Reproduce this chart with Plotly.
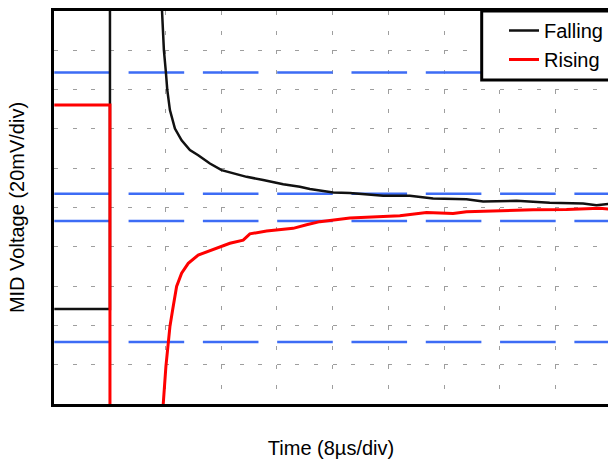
import plotly.graph_objects as go

# Data (x in divisions of 8 µs, y in divisions of 20 mV)
falling_x = [0.0, 1.0, 1.0, None, 1.925, 1.969, 2.005, 2.029, 2.077, 2.167, 2.287, 2.436, 2.585,
             2.795, 3.005, 3.214, 3.454, 3.752, 4.111, 4.411, 4.591, 5.009, 5.309, 5.907,
             6.386, 6.804, 7.404, 7.702, 8.302, 8.899, 9.497, 9.738, 9.95]
falling_y = [2.42, 2.42, 10.5, None, 10.3, 9.00, 8.435, 8.00, 7.48, 7.01, 6.71, 6.46, 6.33,
             6.12, 5.95, 5.87, 5.78, 5.70, 5.59, 5.53, 5.47, 5.38, 5.37, 5.30,
             5.30, 5.23, 5.21, 5.15, 5.17, 5.12, 5.10, 5.06, 5.09]

rising_x = [0.0, 1.0, 1.0, None, 1.955, 1.957, 2.005, 2.047, 2.077, 2.126, 2.197, 2.287, 2.406,
            2.585, 2.826, 3.154, 3.393, 3.513, 3.813, 4.111, 4.291, 4.531, 4.770, 5.309,
            5.907, 6.206, 6.686, 7.163, 7.404, 8.002, 8.600, 9.199, 9.797, 9.95]
rising_y = [7.61, 7.61, -0.5, None, -0.5, 0.0, 0.955, 1.575, 1.97, 2.40, 2.99, 3.33, 3.58,
            3.79, 3.92, 4.09, 4.17, 4.33, 4.40, 4.45, 4.47, 4.56, 4.64, 4.73,
            4.77, 4.79, 4.87, 4.85, 4.89, 4.92, 4.94, 4.95, 4.98, 4.96]

ref_levels = [8.435, 5.35, 4.657, 1.575]

x_max = 9.945

fig = go.Figure()

for lv in ref_levels:
    fig.add_trace(go.Scatter(x=[0, x_max], y=[lv, lv], mode="lines",
                             line=dict(color="#3d6cf5", width=2.5, dash="55.6px,18.7px"),
                             showlegend=False, hoverinfo="skip"))

fig.add_trace(go.Scatter(x=falling_x, y=falling_y, mode="lines", name="Falling",
                         line=dict(color="#111111", width=2.5)))
fig.add_trace(go.Scatter(x=rising_x, y=rising_y, mode="lines", name="Rising",
                         line=dict(color="red", width=3)))

font_family = "Arial, Liberation Sans, sans-serif"

# legend frame (extends past the right edge like the reference)
W, H, L, T, B = 608, 464, 54, 11, 60
pw = W - L
ph = H - T - B
box_x0 = (481.7 - L) / pw
box_y0 = 1 - (80 - T) / ph
fig.add_shape(type="rect", xref="paper", yref="paper",
              x0=box_x0, x1=1.05, y0=box_y0, y1=1.0,
              line=dict(color="black", width=3), fillcolor="white", layer="above")

fig.update_layout(
    width=W, height=H,
    margin=dict(l=L, r=0, t=T, b=B),
    paper_bgcolor="white", plot_bgcolor="white",
    font=dict(family=font_family, size=20, color="black"),
    showlegend=True,
    legend=dict(x=1.0, y=1.0, xanchor="right", yanchor="top",
                borderwidth=0, bgcolor="rgba(0,0,0,0)",
                font=dict(size=20), tracegroupgap=0),
    xaxis=dict(range=[-0.005, x_max], dtick=1, tick0=0, showticklabels=False, ticks="",
               showgrid=True, gridcolor="#9e9e9e", gridwidth=1, griddash="4px,15.68px",
               zeroline=False, showline=True, linecolor="black", linewidth=3, mirror=True,
               title=dict(text="Time (8µs/div)", standoff=35, font=dict(size=20)),
               automargin=False),
    yaxis=dict(range=[0, 10], dtick=1, tick0=0, showticklabels=False, ticks="",
               showgrid=True, gridcolor="#9e9e9e", gridwidth=1, griddash="4px,14.57px",
               zeroline=False, showline=True, linecolor="black", linewidth=3, mirror=False,
               title=dict(text="MID Voltage (20mV/div)", standoff=22, font=dict(size=20)),
               automargin=False),
)

fig.write_html("out.html")
